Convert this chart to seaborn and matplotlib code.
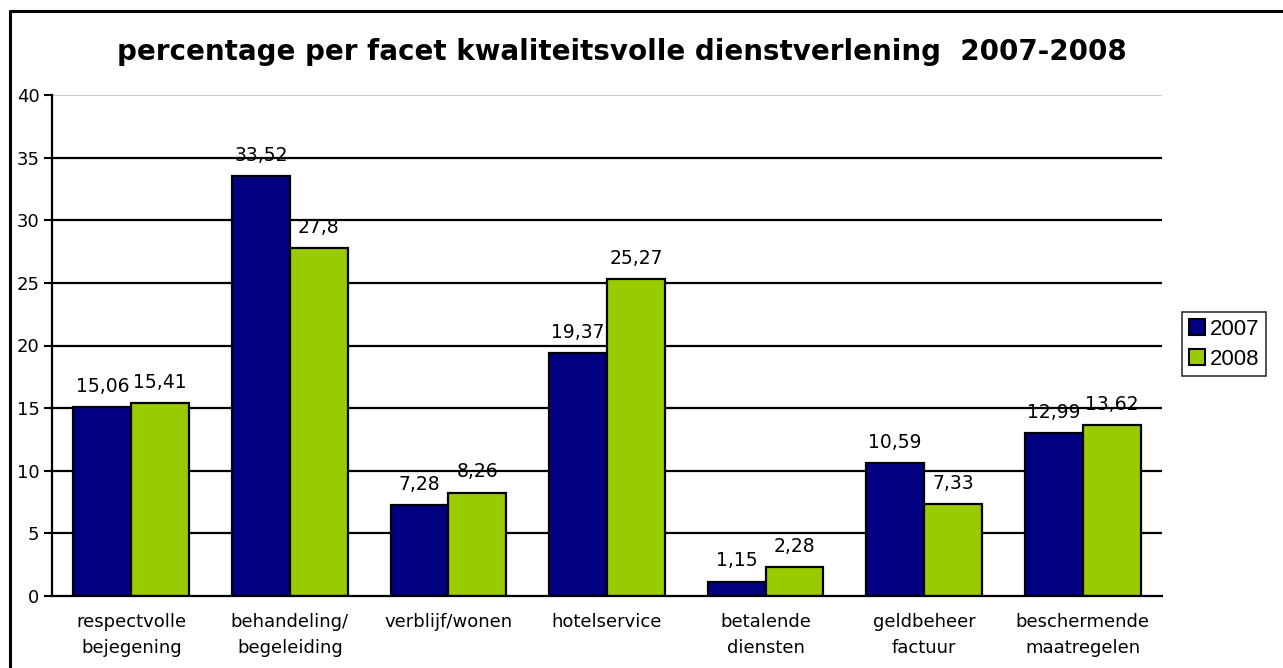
import numpy as np
import pandas as pd
import matplotlib
matplotlib.use("Agg")
import matplotlib.pyplot as plt
import seaborn as sns
from matplotlib.lines import Line2D

# data
categories = ["respectvolle\nbejegening", "behandeling/\nbegeleiding", "verblijf/wonen",
              "hotelservice", "betalende\ndiensten", "geldbeheer\nfactuur",
              "beschermende\nmaatregelen"]
years = ["2007", "2008"]
vals_2007 = [15.06, 33.52, 7.28, 19.37, 1.15, 10.59, 12.99]
vals_2008 = [15.41, 27.8, 8.26, 25.27, 2.28, 7.33, 13.62]
y_ticks = [0, 5, 10, 15, 20, 25, 30, 35, 40]

df = pd.DataFrame({
    "facet": categories * 2,
    "jaar": [years[0]] * 7 + [years[1]] * 7,
    "pct": vals_2007 + vals_2008,
})

sns.set_theme(style="white")
plt.rcParams["font.family"] = ["DejaVu Sans"]
plt.rcParams["text.color"] = "black"
plt.rcParams["xtick.color"] = "black"
plt.rcParams["ytick.color"] = "black"
plt.rcParams["xtick.labelcolor"] = "black"
plt.rcParams["ytick.labelcolor"] = "black"

fig = plt.figure(figsize=(12.83, 6.68), dpi=100)
ax = fig.add_axes([52 / 1283, 72 / 668, 1110 / 1283, 501 / 668])

sns.barplot(data=df, x="facet", y="pct", hue="jaar", order=categories,
            hue_order=years, palette=["#000080", "#99CC00"], width=0.73,
            edgecolor="black", linewidth=1.6, ax=ax, legend=False,
            saturation=1)

for cont in ax.containers:
    labels = [f"{v:g}".replace(".", ",") for v in cont.datavalues]
    ax.bar_label(cont, labels=labels, padding=8, fontsize=13.5, color="black")

ax.set_ylim(0, 40)
ax.set_xlim(-0.5, 6.5)
ax.set_yticks(y_ticks)
ax.set_yticklabels([str(t) for t in y_ticks], fontsize=13)
ax.set_xticks(range(len(categories)))
ax.set_xticklabels(categories, fontsize=13, linespacing=1.6)
ax.set_xticks(np.arange(-0.5, 7, 1), minor=True)
ax.tick_params(axis="x", which="major", length=0, pad=12)
ax.tick_params(axis="x", which="minor", length=6, width=1.5, color="black", direction="out")
ax.tick_params(axis="y", length=6, width=1.5, color="black", direction="out", pad=3, left=True)
ax.set_xlabel("")
ax.set_ylabel("")

for t in y_ticks[1:-1]:
    ax.axhline(t, color="black", lw=1.6, zorder=0)
ax.axhline(40, color="#c0c0c0", lw=1.2, zorder=0)

for s in ["top", "right"]:
    ax.spines[s].set_visible(False)
ax.spines["left"].set_color("black")
ax.spines["left"].set_linewidth(1.6)
ax.spines["bottom"].set_color("black")
ax.spines["bottom"].set_linewidth(1.6)

fig.text(622 / 1283, 1 - 52 / 668, "percentage per facet kwaliteitsvolle dienstverlening  2007-2008",
         ha="center", va="center", fontsize=20, fontweight="bold", color="black")

handles = [plt.Rectangle((0, 0), 1, 1, facecolor=c, edgecolor="black", lw=1.5)
           for c in ["#000080", "#99CC00"]]
leg = fig.legend(handles, years, loc="upper left", bbox_to_anchor=(1182 / 1283, 1 - 312 / 668),
                 frameon=True, fancybox=False, edgecolor="black",
                 prop={"family": "Liberation Sans", "size": 16},
                 handlelength=0.75, handleheight=0.75, handletextpad=0.2,
                 borderpad=0.3, labelspacing=0.4, borderaxespad=0)
leg.get_frame().set_linewidth(1.2)

# outer border (only top and left visible)
fig.add_artist(Line2D([10 / 1283, 1.0], [1 - 11 / 668] * 2, color="black", lw=2.2, transform=fig.transFigure))
fig.add_artist(Line2D([10 / 1283] * 2, [0, 1 - 11 / 668], color="black", lw=2.2, transform=fig.transFigure))

fig.savefig("out.png", dpi=100, facecolor="white")
